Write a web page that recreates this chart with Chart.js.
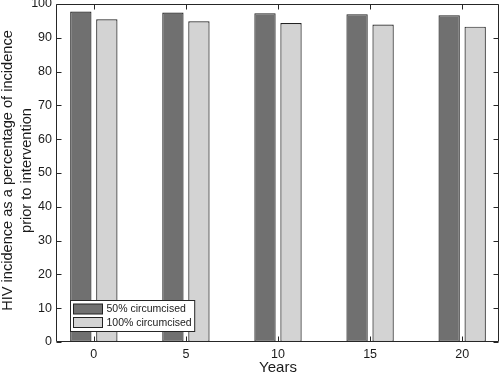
<!DOCTYPE html>
<html>
<head>
<meta charset="utf-8">
<script src="https://cdn.jsdelivr.net/npm/chart.js@4/dist/chart.umd.min.js"></script>
<style>
  html, body { margin: 0; padding: 0; background: #fff; }
  #wrap { width: 500px; height: 374px; }
</style>
</head>
<body>
<div id="wrap"><canvas id="c" width="500" height="374"></canvas></div>
<script>
const years = [0, 5, 10, 15, 20];
const circ50 = [97.8, 97.5, 97.3, 97.0, 96.7];
const circ100 = [95.5, 94.9, 94.4, 93.9, 93.3];
const yTicks = [0, 10, 20, 30, 40, 50, 60, 70, 80, 90, 100];
const seriesLabels = ['50% circumcised', '100% circumcised'];
const xTitle = 'Years';
const yTitle = ['HIV incidence as a percentage of incidence', 'prior to intervention'];

const FONT = 'Liberation Sans, Arial, Helvetica, sans-serif';
const AXIS = '#262626';

const framePlugin = {
  id: 'frame',
  afterDatasetsDraw(chart) {
    const {ctx, chartArea: a, scales: {x, y}} = chart;
    ctx.save();
    ctx.strokeStyle = AXIS;
    ctx.lineWidth = 1;
    const L = Math.round(a.left) - 0.5, R = Math.round(a.right) - 0.5;
    const T = Math.round(a.top) + 0.5, B = Math.round(a.bottom) - 0.5;
    ctx.beginPath();
    ctx.rect(L, T, R - L, B - T);
    ctx.stroke();
    const len = 5;
    ctx.beginPath();
    x.ticks.forEach(t => {
      const px = Math.round(x.getPixelForValue(t.value)) + 0.5;
      ctx.moveTo(px, B); ctx.lineTo(px, B - len);
      ctx.moveTo(px, T); ctx.lineTo(px, T + len);
    });
    y.ticks.forEach(t => {
      const py = Math.round(y.getPixelForValue(t.value)) + 0.5;
      ctx.moveTo(L, py); ctx.lineTo(L + len, py);
      ctx.moveTo(R, py); ctx.lineTo(R - len, py);
    });
    ctx.stroke();

    // y-axis title (two lines, rotated)
    ctx.save();
    ctx.fillStyle = '#1a1a1a';
    ctx.font = '14.6px ' + FONT;
    ctx.textAlign = 'center';
    ctx.textBaseline = 'alphabetic';
    const cy = (a.top + a.bottom) / 2 - 2.5;
    const baselines = [11.7, 31];
    yTitle.forEach((line, i) => {
      ctx.save();
      ctx.translate(baselines[i], cy);
      ctx.rotate(-Math.PI / 2);
      ctx.fillText(line, 0, 0);
      ctx.restore();
    });
    ctx.restore();

    // legend inside chart area, bottom-left
    const ds = chart.data.datasets;
    ctx.font = '10.5px ' + FONT;
    let maxW = 0;
    ds.forEach(d => { maxW = Math.max(maxW, ctx.measureText(d.label).width); });
    const bx = 70.5, by = 300.5;
    const sw = 29, sh = 10, rowH = 13.5;
    const textX = bx + 3 + sw + 4;
    const bw = textX - bx + maxW + 3;
    const bh = 31;
    ctx.fillStyle = '#fff';
    ctx.strokeStyle = AXIS;
    ctx.fillRect(bx, by, bw, bh);
    ctx.strokeRect(bx, by, bw, bh);
    ds.forEach((d, i) => {
      const sy = by + 3.5 + i * rowH;
      ctx.fillStyle = d.backgroundColor;
      ctx.fillRect(bx + 3, sy, sw, sh);
      ctx.strokeStyle = d.borderColor;
      ctx.strokeRect(bx + 3, sy, sw, sh);
      ctx.fillStyle = '#1a1a1a';
      ctx.textBaseline = 'middle';
      ctx.textAlign = 'left';
      ctx.fillText(d.label, textX, sy + sh / 2 + 0.5);
    });
    ctx.restore();
  }
};

new Chart(document.getElementById('c'), {
  type: 'bar',
  data: {
    datasets: [
      {
        label: seriesLabels[0],
        data: years.map((yr, i) => ({x: yr, y: circ50[i]})),
        backgroundColor: '#707070',
        borderColor: '#222222',
        borderWidth: 1.2,
        borderSkipped: false
      },
      {
        label: seriesLabels[1],
        data: years.map((yr, i) => ({x: yr, y: circ100[i]})),
        backgroundColor: '#d3d3d3',
        borderColor: '#222222',
        borderWidth: 1.2,
        borderSkipped: false
      }
    ]
  },
  options: {
    responsive: false,
    animation: false,
    devicePixelRatio: 1,
    categoryPercentage: 0.565,
    barPercentage: 0.82,
    layout: { padding: { top: 4, right: 1, left: 0, bottom: 0 } },
    plugins: {
      legend: { display: false },
      tooltip: { enabled: false }
    },
    scales: {
      x: {
        type: 'linear',
        min: -2,
        max: 22,
        offset: false,
        grid: { display: false, offset: false, drawTicks: false },
        border: { display: false },
        afterBuildTicks(scale) { scale.ticks = years.map(v => ({value: v})); },
        afterFit(scale) {
          scale.height = 32;
          scale.paddingLeft = 0; scale.paddingRight = 0;
          scale.paddingTop = 0; scale.paddingBottom = 0;
        },
        ticks: {
          color: '#1a1a1a',
          font: { family: FONT, size: 12.5 },
          padding: 5,
          maxRotation: 0,
          callback: v => String(v)
        },
        title: {
          display: true,
          text: xTitle,
          color: '#1a1a1a',
          font: { family: FONT, size: 15, lineHeight: 1 },
          padding: { top: 0, bottom: -1 }
        }
      },
      y: {
        min: 0,
        max: 100,
        grid: { display: false, drawTicks: false },
        border: { display: false },
        afterBuildTicks(scale) { scale.ticks = yTicks.map(v => ({value: v})); },
        afterFit(scale) {
          scale.width = 57;
          scale.paddingLeft = 0; scale.paddingRight = 0;
          scale.paddingTop = 0; scale.paddingBottom = 0;
        },
        ticks: {
          color: '#1a1a1a',
          font: { family: FONT, size: 12.5 },
          padding: 5
        },
        title: { display: false }
      }
    }
  },
  plugins: [framePlugin]
});
</script>
</body>
</html>
